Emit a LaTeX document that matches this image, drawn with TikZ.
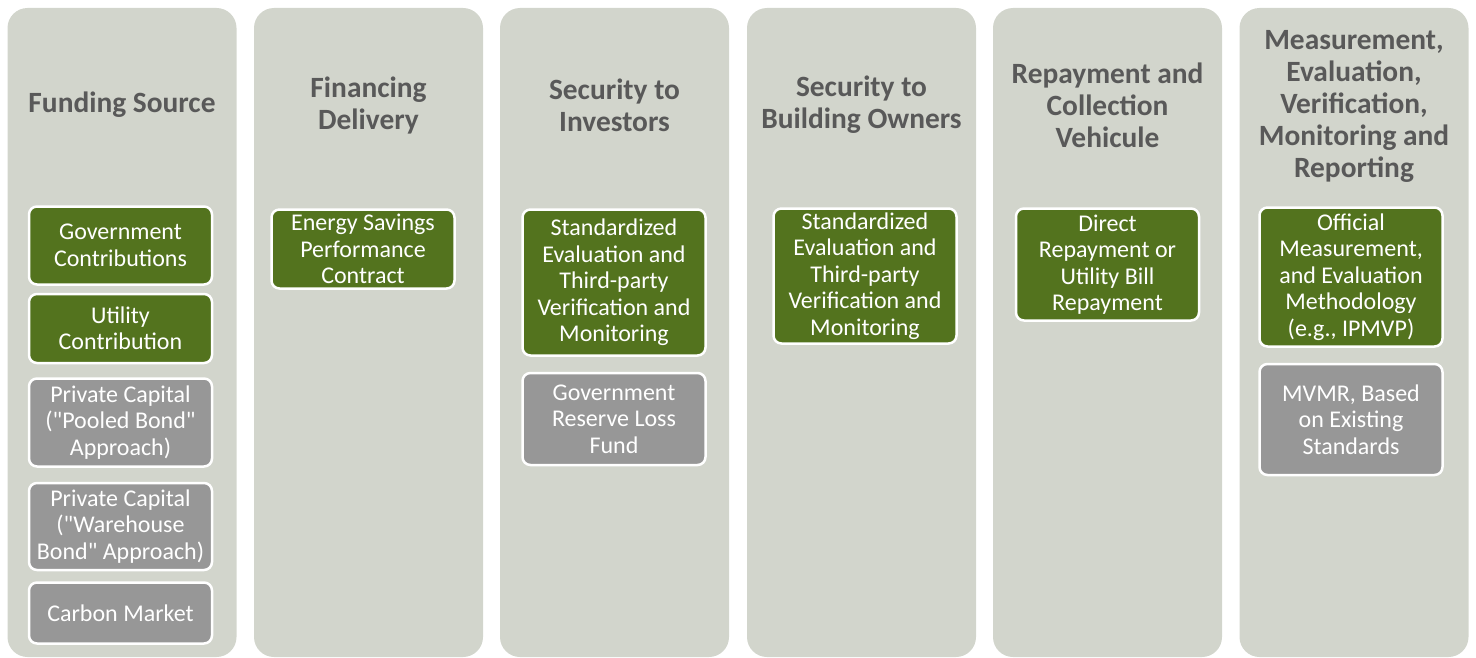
\documentclass[tikz,border=0pt]{standalone}
\usepackage{fontspec}
\setmainfont{Carlito}[Ligatures=TeXOff]
\usepackage{tikz}
\usetikzlibrary{positioning}
\definecolor{colfill}{RGB}{210,213,204}
\definecolor{boxgreen}{RGB}{83,115,30}
\definecolor{boxgrey}{RGB}{151,151,151}
\definecolor{titlegrey}{RGB}{89,89,89}
\tikzstyle{column} = [rectangle, rounded corners=20pt, minimum width=229pt, minimum height=649pt, inner sep=0pt, fill=colfill]
\tikzstyle{heading} = [align=center, text=titlegrey, font=\fontsize{29.4}{32}\selectfont\bfseries]
\tikzstyle{greenbox} = [rectangle, rounded corners=8pt, minimum width=183pt, inner sep=0pt, align=center, text centered, draw=white, line width=2.5pt, fill=boxgreen, text=white, font=\fontsize{24}{26.5}\selectfont]
\tikzstyle{greybox} = [greenbox, fill=boxgrey]

\begin{document}
\begin{tikzpicture}[x=1pt, y=-1pt]

    \useasboundingbox (0,0) rectangle (1476,658);

    % columns
    \node (fund) [column] at (122,332.5) {};
    \node (fin) [column] at (368.5,332.5) {};
    \node (inv) [column] at (614.5,332.5) {};
    \node (own) [column] at (861.5,332.5) {};
    \node (repay) [column] at (1107.5,332.5) {};
    \node (mvmr) [column] at (1354,332.5) {};

    % headings
    \node (fundtitle) [heading] at (122,105) {Funding Source};
    \node (fintitle) [heading] at (368.5,105) {Financing\\Delivery};
    \node (invtitle) [heading] at (614.5,105) {Security to\\Investors};
    \node (owntitle) [heading] at (861.5,105) {Security to\\Building Owners};
    \node (repaytitle) [heading] at (1107.5,105) {Repayment and\\Collection\\Vehicule};
    \node (mvmrtitle) [heading] at (1354,106) {Measurement,\\Evaluation,\\Verification,\\Monitoring and\\Reporting};

    % funding source
    \node (gov) [greenbox, minimum height=78pt] at (120.5,245.5) {Government\\Contributions};
    \node (util) [greenbox, minimum height=69pt, below=7pt of gov] {Utility\\Contribution};
    \node (pooled) [greybox, minimum height=88pt, below=13pt of util] {Private Capital\\("Pooled Bond"\\Approach)};
    \node (warehouse) [greybox, minimum height=87pt, below=14pt of pooled] {Private Capital\\("Warehouse\\Bond" Approach)};
    \node (carbon) [greybox, minimum height=61pt, below=10pt of warehouse] {Carbon Market};

    % financing delivery
    \node (espc) [greenbox, minimum height=79pt] at (363,249) {Energy Savings\\Performance\\Contract};

    % security to investors
    \node (invstd) [greenbox, minimum height=146pt] at (614,282.5) {Standardized\\Evaluation and\\Third-party\\Verification and\\Monitoring};
    \node (reserve) [greybox, minimum height=92pt, below=15pt of invstd] {Government\\Reserve Loss\\Fund};

    % security to building owners
    \node (ownstd) [greenbox, minimum height=135pt] at (865,276) {Standardized\\Evaluation and\\Third-party\\Verification and\\Monitoring};

    % repayment
    \node (direct) [greenbox, minimum height=112pt] at (1107.5,264.5) {Direct\\Repayment or\\Utility Bill\\Repayment};

    % measurement
    \node (official) [greenbox, minimum height=139pt] at (1351,277) {Official\\Measurement,\\and Evaluation\\Methodology\\(e.g., IPMVP)};
    \node (mvmrstd) [greybox, minimum height=111pt, below=15pt of official] {MVMR, Based\\on Existing\\Standards};

\end{tikzpicture}
\end{document}
